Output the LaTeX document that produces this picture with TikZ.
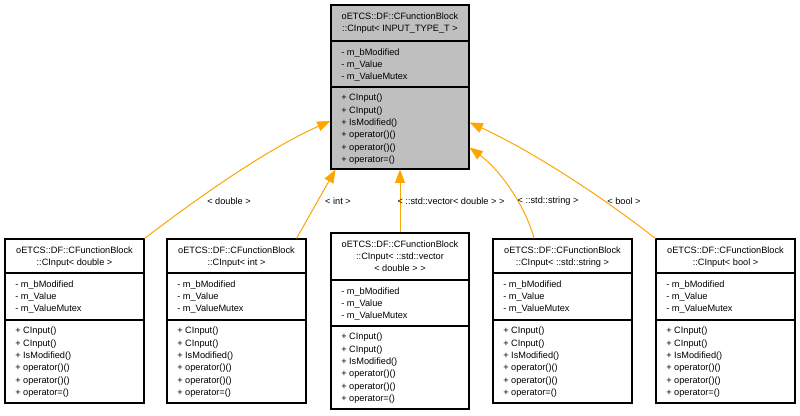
\documentclass[tikz,border=0pt]{standalone}
\usepackage{fontspec}
\setmainfont{Liberation Sans}
\usetikzlibrary{fit,arrows.meta}
\definecolor{edgeor}{HTML}{FFA500}
\definecolor{topgray}{HTML}{BFBFBF}
\tikzset{
 cls/.style={draw=black, line width=0.8pt, inner sep=0pt},
 divline/.style={draw=black, line width=0.8pt},
 txt/.style={inner sep=0pt, font=\fontsize{6.9pt}{9.25pt}\selectfont},
 ttl/.style={txt, align=center, anchor=north},
 lst/.style={txt, align=left, anchor=north west},
 inh/.style={draw=edgeor, line width=0.75pt, -{Triangle[length=10pt,width=7.5pt]}},
 elab/.style={txt},
}
\newcommand\clsbox[9]{%
 \node[cls, fill=#8, fit={(#2,#4) (#3,#7)}] (#1) {};
 \draw[divline] (#2,#5) -- (#3,#5);
 \draw[divline] (#2,#6) -- (#3,#6);
 \node[ttl] (#1-t) at ({(#2+#3)/2},{#4+7.4}) {#9};
 \node[lst] (#1-a) at ({#2+10},{#5+7.4}) {- m\_bModified\\- m\_Value\\- m\_ValueMutex};
 \node[lst] (#1-o) at ({#2+10},{#6+6.8}) {+ CInput()\\+ CInput()\\+ IsModified()\\+ operator()()\\+ operator()()\\+ operator=()};
}
\begin{document}
\begin{tikzpicture}[x=0.75pt,y=-0.75pt]
\useasboundingbox[fill=white] (0,0) rectangle (800,416);
\clsbox{top}{331}{469}{5}{41}{87}{169}{topgray}{oETCS::DF::CFunctionBlock\\::CInput< INPUT\_TYPE\_T >}
\clsbox{b1}{5}{144}{239}{273}{320}{403}{white}{oETCS::DF::CFunctionBlock\\::CInput< double >}
\clsbox{b2}{167}{306}{239}{273}{320}{403}{white}{oETCS::DF::CFunctionBlock\\::CInput< int >}
\clsbox{b3}{331}{469}{233}{280}{326}{409}{white}{oETCS::DF::CFunctionBlock\\::CInput< ::std::vector\\< double > >}
\clsbox{b4}{493}{632}{239}{273}{320}{403}{white}{oETCS::DF::CFunctionBlock\\::CInput< ::std::string >}
\clsbox{b5}{656}{795}{239}{273}{320}{403}{white}{oETCS::DF::CFunctionBlock\\::CInput< bool >}
\draw[inh] (b1.north east) .. controls (195,200) and (265,150) .. (top.206.2);
\draw[inh] (b2.54.7) -- (top.232.5);
\draw[inh] (b3.north) -- (top.south);
\draw[inh] (b4.109.2) .. controls (525,205) and (500,170) .. (top.319.5);
\draw[inh] (b5.north west) .. controls (600,195) and (530,150) .. (top.333.1);
\node[elab] (l1) at (229,201) {< double >};
\node[elab] (l2) at (338,201) {< int >};
\node[elab] (l3) at (451,201) {< ::std::vector< double > >};
\node[elab] (l4) at (548,201) {< ::std::string >};
\node[elab] (l5) at (624,201) {< bool >};
\end{tikzpicture}
\end{document}
